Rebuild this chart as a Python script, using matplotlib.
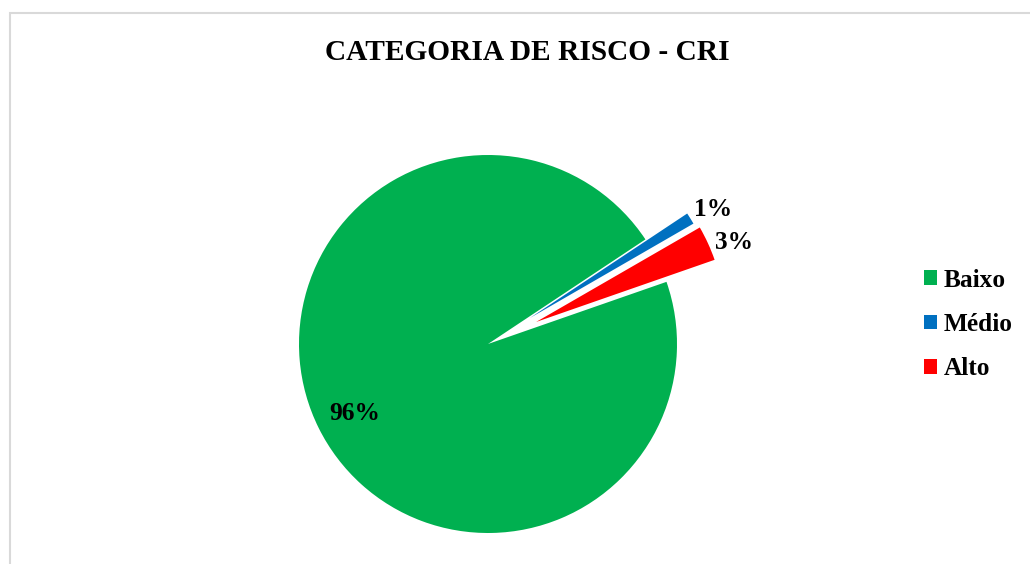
import matplotlib
matplotlib.use("Agg")
import matplotlib.pyplot as plt
from matplotlib.patches import Patch, Rectangle

categories = ["Baixo", "Médio", "Alto"]
shares = [96, 1, 3]
colors = ["#00B050", "#0070C0", "#FF0000"]
explode = [0.0, 0.26, 0.28]

W, H = 1030, 564
fig = plt.figure(figsize=(W / 100, H / 100), dpi=100)
fig.patch.set_facecolor("white")

serif = ["Liberation Serif", "DejaVu Serif"]

# chart-area border (open at right and bottom edges)
fig.add_artist(Rectangle((9.5 / W, -0.1), 1.2, (H - 12.5) / H + 0.1,
                         transform=fig.transFigure, fill=False,
                         edgecolor="#D9D9D9", linewidth=1.5))

# pie axes: radius 1 -> 189 px, centred at (488, 344)
cx, cy, r = 488, 344, 189
span = 1.5
ax = fig.add_axes([(cx - span * r) / W, (H - cy - span * r) / H,
                   2 * span * r / W, 2 * span * r / H])

wedges, texts, autotexts = ax.pie(
    shares, colors=colors, explode=explode, startangle=19.2,
    counterclock=False, radius=1.0, autopct="%1.0f%%", pctdistance=0.79,
    wedgeprops=dict(linewidth=0),
    textprops=dict(fontfamily=serif, fontweight="bold", fontsize=18.3,
                   color="black"))
ax.set_xlim(-span, span)
ax.set_ylim(-span, span)
ax.set_aspect("equal")
ax.axis("off")

# label placement: inside for the large slice, outside end for thin slices
label_pos = {0: (-0.704, -0.37), 1: (1.19, 0.714), 2: (1.304, 0.537)}
for i, (x, y) in label_pos.items():
    autotexts[i].set_position((x, y))
    autotexts[i].set_ha("center")
    autotexts[i].set_va("center")

fig.text(527.5 / W, 1 - 52 / H, "CATEGORIA DE RISCO - CRI",
         ha="center", va="center", fontfamily=serif, fontweight="bold",
         fontsize=21.2)

handles = [Patch(facecolor=c, edgecolor="none") for c in colors]
leg = fig.legend(handles, categories, loc="center left",
                 bbox_to_anchor=(924 / W, 1 - 324.5 / H), frameon=False,
                 prop=dict(family=serif, weight="bold", size=18.3),
                 handlelength=0.53, handleheight=0.53, handletextpad=0.26,
                 labelspacing=0.84, borderpad=0, borderaxespad=0)

fig.savefig("out.png", dpi=100, facecolor="white")
